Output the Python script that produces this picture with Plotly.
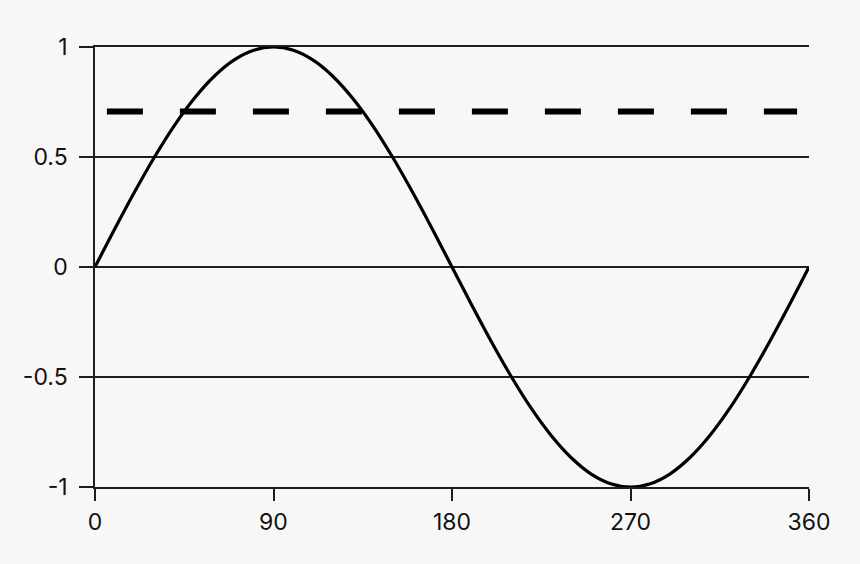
import plotly.graph_objects as go

# Sine curve (degrees, value)
angles = [0, 10, 20, 30, 40, 50, 60, 70, 80, 90, 100, 110, 120, 130, 140, 150, 160, 170, 180,
          190, 200, 210, 220, 230, 240, 250, 260, 270, 280, 290, 300, 310, 320, 330, 340, 350, 360]
sine_values = [0, 0.174, 0.342, 0.5, 0.643, 0.766, 0.866, 0.940, 0.985, 1, 0.985, 0.940, 0.866,
               0.766, 0.643, 0.5, 0.342, 0.174, 0, -0.174, -0.342, -0.5, -0.643, -0.766, -0.866,
               -0.940, -0.985, -1, -0.985, -0.940, -0.866, -0.766, -0.643, -0.5, -0.342, -0.174, 0]

# Dashed RMS level
rms_x = [6, 354]
rms_y = [0.707, 0.707]

x_ticks = [0, 90, 180, 270, 360]
x_tick_labels = ["0", "90", "180", "270", "360"]
y_ticks = [-1, -0.5, 0, 0.5, 1]
y_tick_labels = ["-1", "-0.5", "0", "0.5", "1"]

fig = go.Figure()
fig.add_trace(go.Scatter(x=angles, y=sine_values, mode="lines",
                         line=dict(color="black", width=3.2, shape="spline", smoothing=1.0),
                         hoverinfo="skip"))
fig.add_trace(go.Scatter(x=rms_x, y=rms_y, mode="lines",
                         line=dict(color="black", width=6, dash="36px,37px"),
                         hoverinfo="skip"))

grid_color = "#1e1e1e"
font = dict(family="Inter, Liberation Sans, Arial, sans-serif", size=23, color="#111111")

fig.update_layout(
    width=860, height=564,
    margin=dict(l=95, r=51, t=47, b=77),
    paper_bgcolor="#f7f7f7", plot_bgcolor="#f7f7f7",
    showlegend=False,
    font=font,
    xaxis=dict(range=[0, 360], tickvals=x_ticks, ticktext=x_tick_labels,
               showgrid=False, zeroline=False,
               showline=True, mirror=True, linecolor=grid_color, linewidth=1.5,
               ticks="outside", ticklen=12, tickwidth=1.5, tickcolor=grid_color,
               ticklabelstandoff=2,
               tickfont=font, fixedrange=True),
    yaxis=dict(range=[-1, 1], tickvals=y_ticks, ticktext=y_tick_labels,
               showgrid=True, gridcolor=grid_color, gridwidth=1.5,
               zeroline=True, zerolinecolor=grid_color, zerolinewidth=1.5,
               showline=True, linecolor=grid_color, linewidth=1.5,
               ticks="outside", ticklen=14, tickwidth=1.5, tickcolor=grid_color,
               ticklabelstandoff=7,
               tickfont=font, fixedrange=True),
)

fig.write_html("out.html",
               config={"displayModeBar": False},
               post_script="document.body.style.margin='0';document.body.style.background='#f7f7f7';")
